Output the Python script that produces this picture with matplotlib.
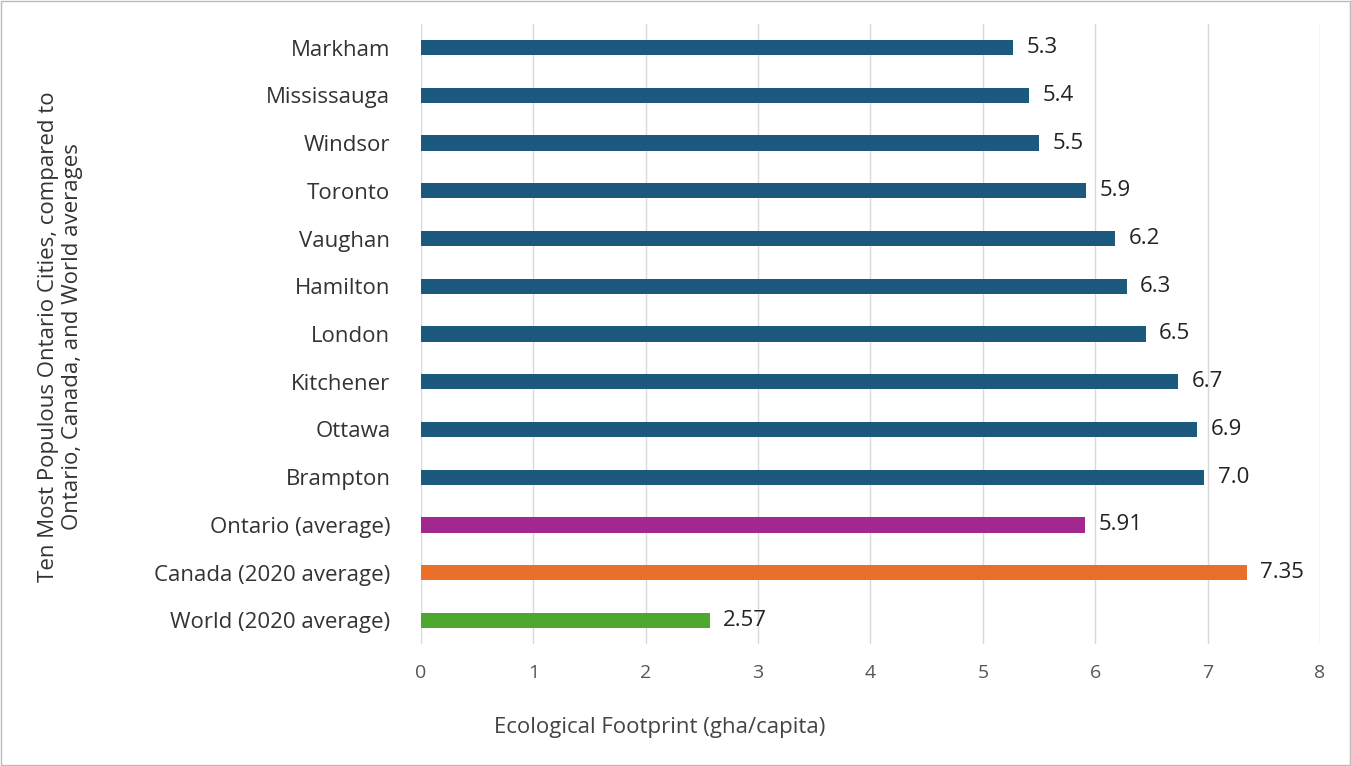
import matplotlib.pyplot as plt

plt.rcParams['font.family'] = ['Open Sans', 'DejaVu Sans']

cities = ['Markham', 'Mississauga', 'Windsor', 'Toronto', 'Vaughan', 'Hamilton',
          'London', 'Kitchener', 'Ottawa', 'Brampton',
          'Ontario (average)', 'Canada (2020 average)', 'World (2020 average)']
values = [5.27, 5.41, 5.50, 5.92, 6.18, 6.28, 6.45, 6.74, 6.91, 6.97, 5.91, 7.35, 2.57]
labels = ['5.3', '5.4', '5.5', '5.9', '6.2', '6.3', '6.5', '6.7', '6.9', '7.0',
          '5.91', '7.35', '2.57']
colors = ['#1b5a7e'] * 10 + ['#a0288f', '#e8702a', '#4ea72e']

fig = plt.figure(figsize=(13.51, 7.66), dpi=100)
ax = fig.add_axes([0.3116, 0.159, 0.6654, 0.810])
pos = list(range(len(cities)))
ax.barh(pos, values, height=0.32, color=colors, zorder=3)
for p, v, l in zip(pos, values, labels):
    ax.text(v + 0.12, p, l, va='center', ha='left', fontsize=16, color='#222222')
ax.set_ylim(len(cities) - 0.5, -0.5)
ax.set_xlim(0, 8)
ax.set_xticks(range(9))
ax.set_yticks(pos)
ax.set_yticklabels(cities, fontsize=16, color='#333333')
ax.tick_params(axis='x', labelsize=14, colors='#555555', length=0, pad=14)
ax.tick_params(axis='y', length=0, pad=22)
ax.grid(axis='x', color='#d9d9d9', linewidth=1, zorder=0)
for s in ax.spines.values():
    s.set_visible(False)
fig.text(0.488, 0.05, 'Ecological Footprint (gha/capita)', ha='center', va='center',
         fontsize=16, color='#444444')
fig.text(0.045, 0.56, 'Ten Most Populous Ontario Cities, compared to\nOntario, Canada, and World averages',
         rotation=90, ha='center', va='center', fontsize=16, color='#333333')
fig.patches.append(plt.Rectangle((0.001, 0.001), 0.998, 0.998, transform=fig.transFigure,
                                 fill=False, edgecolor='#bbbbbb', linewidth=1))
fig.savefig('out.png', dpi=100)
